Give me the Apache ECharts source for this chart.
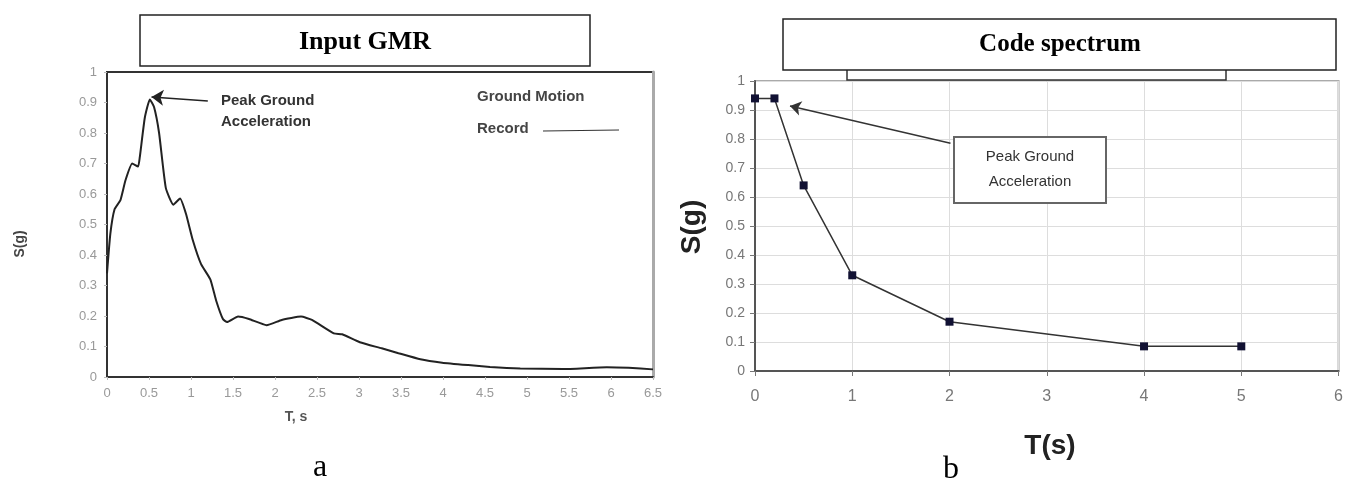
<!DOCTYPE html>
<html>
<head>
<meta charset="utf-8">
<script src="https://cdn.jsdelivr.net/npm/echarts@6/dist/echarts.min.js"></script>
<style>
  html, body { margin: 0; padding: 0; background: #fff; }
  #main { width: 1346px; height: 484px; }
</style>
</head>
<body>
<div id="main"></div>
<script>
// panel a: ground motion record
const gmrT = [0, 0.04, 0.09, 0.16, 0.22, 0.30, 0.37, 0.39, 0.45, 0.51, 0.56, 0.62, 0.70, 0.79, 0.87, 0.94,
  1.02, 1.12, 1.23, 1.30, 1.38, 1.43, 1.56, 1.69, 1.90, 2.08, 2.31, 2.44, 2.70, 2.80, 3.01, 3.27, 3.47,
  3.73, 3.99, 4.30, 4.56, 4.92, 5.43, 5.95, 6.21, 6.5];
const gmrS = [0.34, 0.47, 0.55, 0.58, 0.645, 0.70, 0.69, 0.72, 0.85, 0.91, 0.885, 0.80, 0.62, 0.565, 0.585, 0.535,
  0.45, 0.37, 0.32, 0.25, 0.19, 0.18, 0.198, 0.19, 0.17, 0.187, 0.198, 0.187, 0.143, 0.14, 0.114, 0.094, 0.078,
  0.058, 0.047, 0.039, 0.033, 0.028, 0.026, 0.032, 0.03, 0.025];

// panel b: code spectrum
const codeT = [0, 0.2, 0.5, 1, 2, 4, 5];
const codeS = [0.94, 0.94, 0.64, 0.33, 0.17, 0.085, 0.085];

const pair = (xs, ys) => xs.map((x, i) => [x, ys[i]]);

const myChart = echarts.init(document.getElementById('main'));

const lblA = { color: '#999', fontSize: 13, fontFamily: 'Liberation Sans, sans-serif' };
const lblB = { color: '#777', fontFamily: 'Liberation Sans Narrow, Liberation Sans, sans-serif' };
const hidden = { axisLine: { show: false }, axisTick: { show: false }, axisLabel: { show: false }, splitLine: { show: false } };

const graphics = [
  // panel a title box
  { type: 'rect', shape: { x: 140, y: 15, width: 450, height: 51 }, style: { fill: '#fff', stroke: '#222', lineWidth: 1.5 } },
  { type: 'text', x: 365, y: 42, style: { text: 'Input GMR', font: 'bold 26px "Liberation Serif", serif', fill: '#000', textAlign: 'center', textVerticalAlign: 'middle' } },
  // panel b title boxes
  { type: 'rect', shape: { x: 847, y: 50, width: 379, height: 30 }, style: { fill: '#fff', stroke: '#333', lineWidth: 1.5 } },
  { type: 'rect', shape: { x: 783, y: 19, width: 553, height: 51 }, style: { fill: '#fff', stroke: '#222', lineWidth: 1.5 } },
  { type: 'text', x: 1060, y: 45, style: { text: 'Code spectrum', font: 'bold 25px "Liberation Serif", serif', fill: '#000', textAlign: 'center', textVerticalAlign: 'middle' } },
  // panel a annotations
  { type: 'text', x: 221, y: 101, style: { text: 'Peak Ground', font: 'bold 15px "Liberation Sans", sans-serif', fill: '#333', textVerticalAlign: 'middle' } },
  { type: 'text', x: 221, y: 122, style: { text: 'Acceleration', font: 'bold 15px "Liberation Sans", sans-serif', fill: '#333', textVerticalAlign: 'middle' } },
  { type: 'text', x: 477, y: 97, style: { text: 'Ground Motion', font: 'bold 15px "Liberation Sans", sans-serif', fill: '#444', textVerticalAlign: 'middle' } },
  { type: 'text', x: 477, y: 129, style: { text: 'Record', font: 'bold 15px "Liberation Sans", sans-serif', fill: '#444', textVerticalAlign: 'middle' } },
  { type: 'line', shape: { x1: 543, y1: 131, x2: 619, y2: 130 }, style: { stroke: '#333', lineWidth: 1.2 } },
  { type: 'text', x: 20, y: 244, rotation: Math.PI / 2, style: { text: 'S(g)', font: 'bold 14px "Liberation Sans", sans-serif', fill: '#444', textAlign: 'center', textVerticalAlign: 'middle' } },
  { type: 'text', x: 296, y: 417, style: { text: 'T, s', font: 'bold 14px "Liberation Sans", sans-serif', fill: '#555', textAlign: 'center', textVerticalAlign: 'middle' } },
  { type: 'text', x: 320, y: 484, style: { text: 'a', font: '32px "Liberation Serif", serif', fill: '#000', textAlign: 'center', textVerticalAlign: 'bottom' } },
  // panel b annotations
  { type: 'rect', shape: { x: 954, y: 137, width: 152, height: 66 }, style: { fill: '#fff', stroke: '#666', lineWidth: 2 } },
  { type: 'text', x: 1030, y: 157, style: { text: 'Peak Ground', font: '15px "Liberation Sans", sans-serif', fill: '#333', textAlign: 'center', textVerticalAlign: 'middle' } },
  { type: 'text', x: 1030, y: 182, style: { text: 'Acceleration', font: '15px "Liberation Sans", sans-serif', fill: '#333', textAlign: 'center', textVerticalAlign: 'middle' } },
  { type: 'text', x: 692, y: 227, rotation: Math.PI / 2, style: { text: 'S(g)', font: 'bold 28px "Liberation Sans", sans-serif', fill: '#222', textAlign: 'center', textVerticalAlign: 'middle' } },
  { type: 'text', x: 1050, y: 446, style: { text: 'T(s)', font: 'bold 28px "Liberation Sans", sans-serif', fill: '#222', textAlign: 'center', textVerticalAlign: 'middle' } },
  { type: 'text', x: 951, y: 486, style: { text: 'b', font: '32px "Liberation Serif", serif', fill: '#000', textAlign: 'center', textVerticalAlign: 'bottom' } }
];

const option = {
  animation: false,
  grid: [
    { left: 107, top: 72, width: 546, height: 305, show: true, borderColor: '#333', borderWidth: 2 },
    { left: 755, top: 81, width: 585, height: 290, show: true, borderColor: '#aaa', borderWidth: 2 }
  ],
  xAxis: [
    {
      gridIndex: 0, type: 'value', min: 0, max: 6.5, interval: 0.5,
      axisLine: { lineStyle: { color: '#333', width: 2 } },
      axisTick: { show: true, length: 3, lineStyle: { color: '#bbb' } },
      axisLabel: Object.assign({ margin: 10 }, lblA),
      splitLine: { show: false }
    },
    {
      gridIndex: 1, type: 'value', min: 0, max: 6, interval: 1,
      axisLine: { lineStyle: { color: '#555', width: 2 } },
      axisTick: { show: true, length: 5, lineStyle: { color: '#777' } },
      axisLabel: Object.assign({ fontSize: 16, margin: 18 }, lblB),
      splitLine: { show: true, lineStyle: { color: '#ddd' } }
    }
  ],
  yAxis: [
    {
      gridIndex: 0, type: 'value', min: 0, max: 1, interval: 0.1,
      axisLine: { lineStyle: { color: '#333', width: 2 } },
      axisTick: { show: true, length: 3, lineStyle: { color: '#bbb' } },
      axisLabel: Object.assign({ margin: 10 }, lblA),
      splitLine: { show: false }
    },
    {
      gridIndex: 1, type: 'value', min: 0, max: 1, interval: 0.1,
      axisLine: { show: true, lineStyle: { color: '#555', width: 2 } },
      axisTick: { show: true, length: 5, lineStyle: { color: '#777' } },
      axisLabel: Object.assign({ fontSize: 14, margin: 10 }, lblB),
      splitLine: { show: true, lineStyle: { color: '#ddd' } }
    },
    // light right edge of panel a frame
    Object.assign({ gridIndex: 0, type: 'value', position: 'right', min: 0, max: 1 }, hidden,
      { axisLine: { show: true, lineStyle: { color: '#aaa', width: 3 } } })
  ],
  series: [
    {
      type: 'line', xAxisIndex: 0, yAxisIndex: 0, smooth: 0.15,
      data: pair(gmrT, gmrS), showSymbol: false,
      lineStyle: { color: '#222', width: 2 },
      markLine: {
        silent: true, symbol: ['none', 'arrow'], symbolSize: 12,
        lineStyle: { color: '#222', width: 1.5, type: 'solid' }, label: { show: false },
        data: [[{ coord: [1.2, 0.905] }, { coord: [0.53, 0.918] }]]
      }
    },
    {
      type: 'line', xAxisIndex: 1, yAxisIndex: 1,
      data: pair(codeT, codeS), symbol: 'rect', symbolSize: 8,
      itemStyle: { color: '#111133' },
      lineStyle: { color: '#333', width: 1.5 },
      markLine: {
        silent: true, symbol: ['none', 'arrow'], symbolSize: 11,
        lineStyle: { color: '#333', width: 1.5, type: 'solid' }, label: { show: false },
        data: [[{ coord: [2.01, 0.785] }, { coord: [0.36, 0.914] }]]
      }
    }
  ],
  // keep the boxes above the grid lines
  graphic: graphics.map(g => Object.assign({ z: 100 }, g))
};

myChart.setOption(option);
</script>
</body>
</html>
